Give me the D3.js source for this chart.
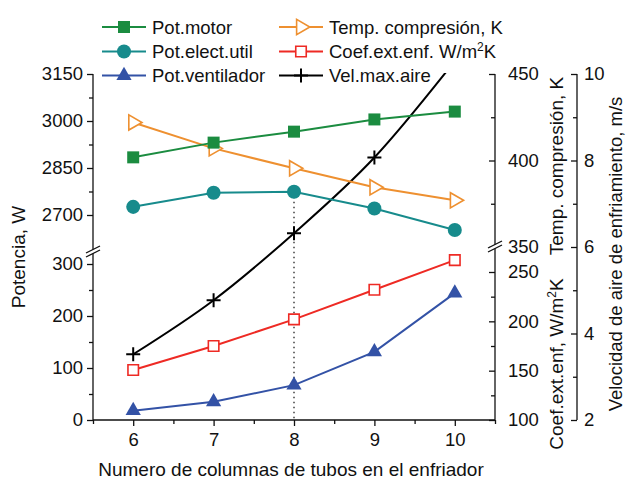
<!DOCTYPE html>
<html>
<head>
<meta charset="utf-8">
<script src="https://cdn.jsdelivr.net/npm/d3@7/dist/d3.min.js"></script>
<style>
  html, body { margin: 0; padding: 0; background: #fff; }
  svg text { font-family: "Liberation Sans", Arial, sans-serif; fill: #111; }
</style>
</head>
<body>
<svg id="chart" width="626" height="481"></svg>
<script>
// Number of tube columns in the cooler
const columns = [6, 7, 8, 9, 10];

// Power series, W
const potMotor = [2884, 2931, 2966, 3005, 3030];
const potElectUtil = [2726, 2771, 2774, 2721, 2652];
const potVentilador = [18, 35, 67, 131, 244];

// Compression temperature, K
const tempCompresion = [422, 407, 395.5, 384.5, 377];
// External heat transfer coefficient, W/m2K
const coefExtEnf = [150.7, 175, 202, 232, 262];
// Maximum cooling air velocity, m/s
const velMaxAire = [3.52, 4.77, 6.32, 8.07, 10.3];

// Tick labels
const xTicks = [6, 7, 8, 9, 10];
const powHighTicks = [2700, 2850, 3000, 3150];
const powLowTicks = [0, 100, 200, 300];
const tempTicks = [350, 400, 450];
const coefTicks = [100, 150, 200, 250];
const velTicks = [2, 4, 6, 8, 10];

const svg = d3.select("#chart");
const FS = 18.5;

const plotL = 93, plotR = 495, plotT = 74, plotB = 420;
const velAxisX = 577;

const x = d3.scaleLinear([5.5, 10.5], [plotL, plotR]);
const yPowHigh = d3.scaleLinear([2700, 3150], [215, plotT]);
const yPowLow = d3.scaleLinear([0, 300], [plotB, 264]);
const yTemp = d3.scaleLinear([350, 450], [247, plotT]);
const yCoef = d3.scaleLinear([100, 250], [plotB, 272]);
const yVel = d3.scaleLinear([2, 10], [plotB, plotT]);

const colors = {
  motor: "#1b8c40",
  elect: "#178b8c",
  vent: "#3352a6",
  temp: "#ee9030",
  coef: "#ee2a24",
  vel: "#000000"
};

svg.append("clipPath").attr("id", "plotClip")
  .append("rect").attr("x", plotL).attr("y", plotT - 1)
  .attr("width", plotR - plotL).attr("height", plotB - plotT + 1);

const axisStroke = 1.3;
function styleAxis(g) {
  g.select(".domain").remove();
  g.selectAll("line").attr("stroke", "#111").attr("stroke-width", axisStroke);
  g.selectAll("text").attr("font-size", FS).attr("fill", "#111")
    .attr("font-family", "Liberation Sans, Arial, sans-serif");
}
function minor(axis, scale, values, size) {
  return axis(scale).tickValues(values).tickSize(size).tickFormat("");
}

// ---- bottom axis ----
svg.append("g").attr("transform", `translate(0,${plotB})`)
  .call(minor(d3.axisBottom, x, [5.5, 6.5, 7.5, 8.5, 9.5, 10.5], 4)).call(styleAxis);
svg.append("g").attr("transform", `translate(0,${plotB})`)
  .call(d3.axisBottom(x).tickValues(xTicks).tickSize(6).tickPadding(7).tickFormat(d3.format("d")))
  .call(styleAxis);
svg.append("line").attr("x1", plotL).attr("x2", plotR).attr("y1", plotB).attr("y2", plotB)
  .attr("stroke", "#111").attr("stroke-width", axisStroke);

// ---- left (broken) power axis ----
svg.append("g").attr("transform", `translate(${plotL},0)`)
  .call(minor(d3.axisLeft, yPowHigh, [2775, 2925, 3075], 4)).call(styleAxis);
svg.append("g").attr("transform", `translate(${plotL},0)`)
  .call(d3.axisLeft(yPowHigh).tickValues(powHighTicks).tickSize(6).tickPadding(4).tickFormat(d3.format("d")))
  .call(styleAxis);
svg.append("g").attr("transform", `translate(${plotL},0)`)
  .call(minor(d3.axisLeft, yPowLow, [50, 150, 250], 4)).call(styleAxis);
svg.append("g").attr("transform", `translate(${plotL},0)`)
  .call(d3.axisLeft(yPowLow).tickValues(powLowTicks).tickSize(6).tickPadding(4).tickFormat(d3.format("d")))
  .call(styleAxis);
svg.append("line").attr("x1", plotL).attr("x2", plotL).attr("y1", plotT).attr("y2", plotB)
  .attr("stroke", "#111").attr("stroke-width", axisStroke);

// ---- right axes: temperature (upper) and coefficient (lower) ----
svg.append("g").attr("transform", `translate(${plotR},0)`)
  .call(minor(d3.axisRight, yTemp, [375, 425], -4)).call(styleAxis);
svg.append("g").attr("transform", `translate(${plotR},0)`)
  .call(d3.axisRight(yTemp).tickValues(tempTicks).tickSizeInner(-6).tickSizeOuter(0).tickPadding(13).tickFormat(d3.format("d")))
  .call(styleAxis);
svg.append("g").attr("transform", `translate(${plotR},0)`)
  .call(minor(d3.axisRight, yCoef, [125, 175, 225], -4)).call(styleAxis);
svg.append("g").attr("transform", `translate(${plotR},0)`)
  .call(d3.axisRight(yCoef).tickValues(coefTicks).tickSizeInner(-6).tickSizeOuter(0).tickPadding(13).tickFormat(d3.format("d")))
  .call(styleAxis);
svg.append("line").attr("x1", plotR).attr("x2", plotR).attr("y1", plotT).attr("y2", plotB)
  .attr("stroke", "#111").attr("stroke-width", axisStroke);

// ---- velocity axis ----
svg.append("g").attr("transform", `translate(${velAxisX},0)`)
  .call(minor(d3.axisRight, yVel, [3, 5, 7, 9], -4)).call(styleAxis);
svg.append("g").attr("transform", `translate(${velAxisX},0)`)
  .call(d3.axisRight(yVel).tickValues(velTicks).tickSizeInner(-6).tickSizeOuter(0).tickPadding(7).tickFormat(d3.format("d")))
  .call(styleAxis);
svg.append("line").attr("x1", velAxisX).attr("x2", velAxisX).attr("y1", plotT).attr("y2", plotB)
  .attr("stroke", "#111").attr("stroke-width", axisStroke);

// ---- axis break marks ----
function breakMark(cx, cy) {
  const g = svg.append("g").attr("transform", `translate(${cx},${cy})`);
  g.append("polygon").attr("points", "-7,2 7,-5 7,-1 -7,6").attr("fill", "#fff");
  g.append("line").attr("x1", -7).attr("y1", 2).attr("x2", 7).attr("y2", -5)
    .attr("stroke", "#111").attr("stroke-width", axisStroke);
  g.append("line").attr("x1", -7).attr("y1", 6).attr("x2", 7).attr("y2", -1)
    .attr("stroke", "#111").attr("stroke-width", axisStroke);
}
breakMark(plotL, 251);
breakMark(plotR, 246);

// ---- vertical guide at 8 columns ----
svg.append("line")
  .attr("x1", x(8)).attr("x2", x(8))
  .attr("y1", yPowHigh(potElectUtil[2])).attr("y2", plotB)
  .attr("stroke", "#222").attr("stroke-width", 1.3).attr("stroke-dasharray", "1.5,3.5");

// ---- series ----
const plot = svg.append("g").attr("clip-path", "url(#plotClip)");

function series(values, yScale, color, curve) {
  const pts = columns.map((c, i) => [x(c), yScale(values[i])]);
  plot.append("path")
    .attr("d", d3.line().curve(curve || d3.curveLinear)(pts))
    .attr("fill", "none").attr("stroke", color).attr("stroke-width", 2);
  return pts;
}

const sym = {
  square: (g, c) => g.append("path").attr("d", d3.symbol(d3.symbolSquare, 144)()).attr("fill", c),
  circle: (g, c) => g.append("path").attr("d", d3.symbol(d3.symbolCircle, 155)()).attr("fill", c),
  triUp: (g, c) => g.append("path").attr("d", d3.symbol(d3.symbolTriangle, 100)()).attr("fill", c),
  triRight: (g, c) => g.append("path").attr("d", d3.symbol(d3.symbolTriangle, 100)())
    .attr("transform", "rotate(90)").attr("fill", "#fff").attr("stroke", c).attr("stroke-width", 1.6),
  openSquare: (g, c) => g.append("path").attr("d", d3.symbol(d3.symbolSquare, 110)())
    .attr("fill", "#fff").attr("stroke", c).attr("stroke-width", 1.6),
  plus: (g, c) => g.append("path").attr("d", "M-7,0H7M0,-7V7")
    .attr("fill", "none").attr("stroke", c).attr("stroke-width", 2)
};

function markers(pts, kind, color) {
  pts.forEach(([px, py]) => {
    const g = plot.append("g").attr("transform", `translate(${px},${py})`);
    sym[kind](g, color);
  });
}

const ventPts = series(potVentilador, yPowLow, colors.vent);
const coefPts = series(coefExtEnf, yCoef, colors.coef);
const velPts = series(velMaxAire, yVel, colors.vel, d3.curveMonotoneX);
const tempPts = series(tempCompresion, yTemp, colors.temp);
const electPts = series(potElectUtil, yPowHigh, colors.elect);
const motorPts = series(potMotor, yPowHigh, colors.motor);

markers(ventPts, "triUp", colors.vent);
markers(coefPts, "openSquare", colors.coef);
markers(velPts, "plus", colors.vel);
markers(tempPts, "triRight", colors.temp);
markers(electPts, "circle", colors.elect);
markers(motorPts, "square", colors.motor);

// text with a superscript "2" (W/m²K)
function withSup(textSel, before, sup, after, size) {
  textSel.append("tspan").text(before);
  textSel.append("tspan").attr("font-size", Math.round(size * 0.65)).attr("dy", -7).text(sup);
  textSel.append("tspan").attr("font-size", size).attr("dy", 7).text(after);
}

// ---- legend ----
const legendItems = [
  { col: 0, row: 0, kind: "square", color: colors.motor, label: "Pot.motor" },
  { col: 0, row: 1, kind: "circle", color: colors.elect, label: "Pot.elect.util" },
  { col: 0, row: 2, kind: "triUp", color: colors.vent, label: "Pot.ventilador" },
  { col: 1, row: 0, kind: "triRight", color: colors.temp, label: "Temp. compresión, K" },
  { col: 1, row: 1, kind: "openSquare", color: colors.coef, label: "Coef.ext.enf. W/m", sup: "2", tail: "K" },
  { col: 1, row: 2, kind: "plus", color: colors.vel, label: "Vel.max.aire" }
];
const legendX = [102, 279];
const legendY = [27, 51.5, 75.5];
legendItems.forEach(it => {
  const lx = legendX[it.col], ly = legendY[it.row];
  const g = svg.append("g").attr("transform", `translate(${lx},${ly})`);
  g.append("line").attr("x1", 0).attr("x2", 44).attr("y1", 0).attr("y2", 0)
    .attr("stroke", it.color).attr("stroke-width", 2);
  const m = g.append("g").attr("transform", "translate(22,0)");
  sym[it.kind](m, it.color);
  const t = g.append("text").attr("x", 50).attr("y", 6.5).attr("font-size", FS);
  if (it.sup) withSup(t, it.label, it.sup, it.tail, FS);
  else t.text(it.label);
});

// ---- axis titles ----
svg.append("text").attr("x", (plotL + plotR) / 2 - 3).attr("y", 476)
  .attr("text-anchor", "middle").attr("font-size", 19)
  .text("Numero de columnas de tubos en el enfriador");

svg.append("text").attr("transform", "translate(25,257) rotate(-90)")
  .attr("text-anchor", "middle").attr("font-size", 19).text("Potencia, W");

svg.append("text").attr("transform", "translate(563,166) rotate(-90)")
  .attr("text-anchor", "middle").attr("font-size", 19).text("Temp. compresión, K");

const coefTitle = svg.append("text").attr("transform", "translate(563,364) rotate(-90)")
  .attr("text-anchor", "middle").attr("font-size", 19);
withSup(coefTitle, "Coef.ext.enf, W/m", "2", "K", 19);

svg.append("text").attr("transform", "translate(622,254) rotate(-90)")
  .attr("text-anchor", "middle").attr("font-size", 18.5)
  .text("Velocidad de aire de enfriamiento, m/s");
</script>
</body>
</html>
